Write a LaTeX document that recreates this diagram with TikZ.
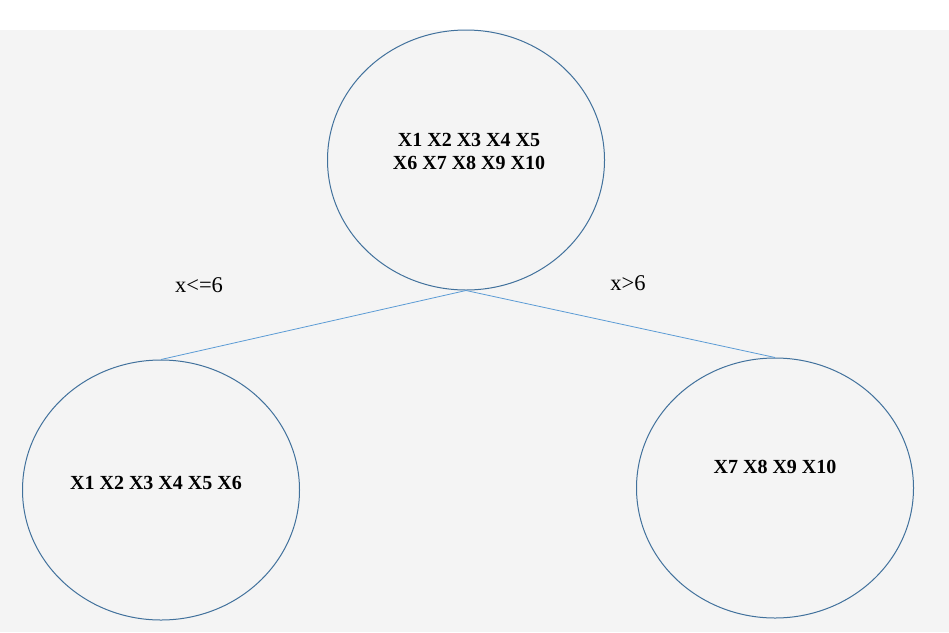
\documentclass[tikz,border=0pt]{standalone}
\usepackage{fontspec}
\setmainfont{Liberation Serif}
\usetikzlibrary{shapes.geometric}
\definecolor{bg}{HTML}{F4F4F4}
\definecolor{ellc}{HTML}{41719C}
\definecolor{linec}{HTML}{5B9BD5}
\tikzset{
  setnode/.style={draw=ellc, line width=1pt, ellipse, inner sep=0pt, minimum width=277pt, minimum height=260pt},
  settext/.style={font=\fontsize{20}{23}\selectfont\bfseries, align=center, inner sep=0pt},
  edgetext/.style={font=\fontsize{22.5}{25}\selectfont, inner sep=0pt},
  branch/.style={draw=linec, line width=0.8pt}
}
\begin{document}
\begin{tikzpicture}[x=1pt,y=-1pt]
\useasboundingbox (0,0) rectangle (949,632);
\fill[white] (0,0) rectangle (949,632);
\fill[bg] (0,30) rectangle (949,632);
\node[setnode] (top) at (466,160) {};
\node[setnode] (left) at (161,490) {};
\node[setnode] (right) at (775,488) {};
\node[settext] (toptext) at (469,151) {X1 X2 X3 X4 X5\\X6 X7 X8 X9 X10};
\node[settext] (lefttext) at (156,483) {X1 X2 X3 X4 X5 X6};
\node[settext] (righttext) at (775,467) {X7 X8 X9 X10};
\node[edgetext] (lablow) at (199,285) {x<=6};
\node[edgetext] (labhigh) at (628,283) {x>6};
\draw[branch] (top.south) -- (left.north);
\draw[branch] (top.south) -- (right.north);
\end{tikzpicture}
\end{document}
